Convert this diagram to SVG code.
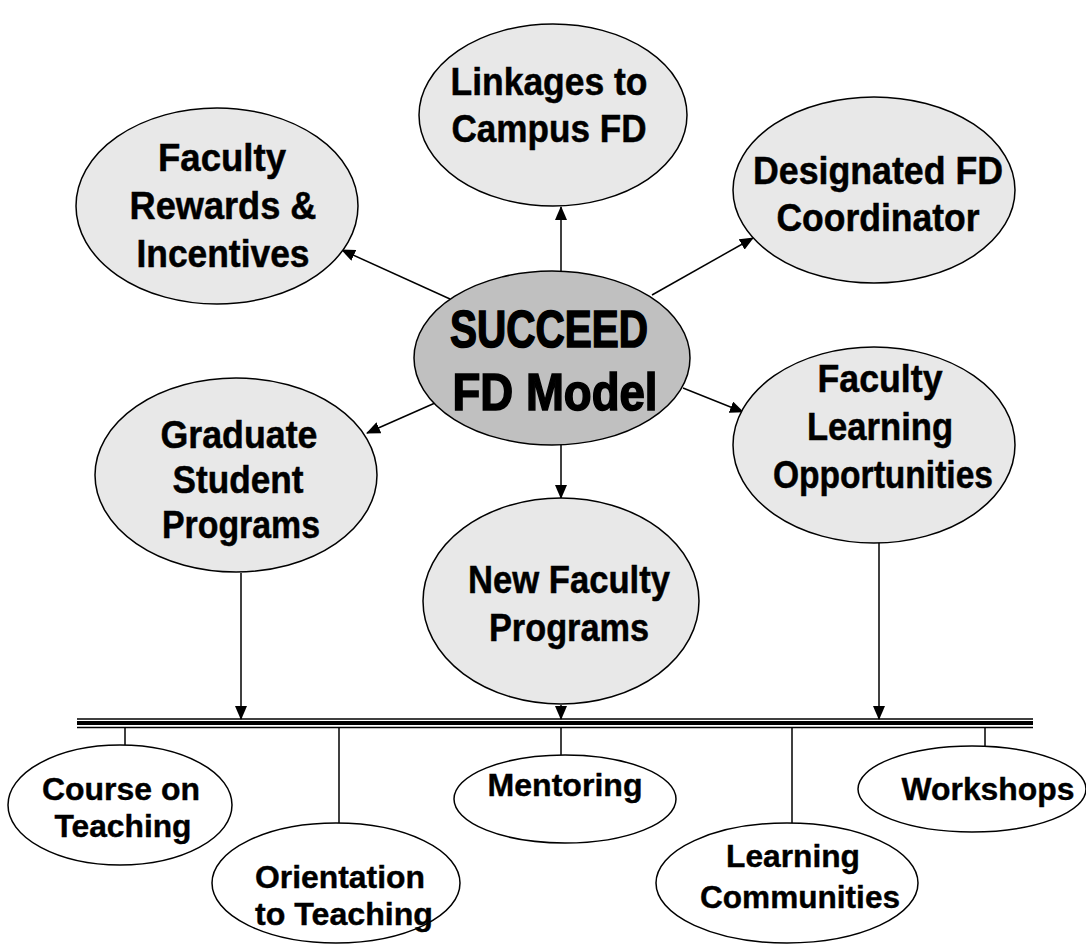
<svg xmlns="http://www.w3.org/2000/svg" width="1086" height="944" viewBox="0 0 1086 944">
<style>
.top{fill:#e8e8e8;stroke:#000;stroke-width:1.5}
.mid{fill:#c0c0c0;stroke:#000;stroke-width:1.5}
.bot{fill:#fff;stroke:#000;stroke-width:1.5}
.t{font-family:"Liberation Sans",Arial,sans-serif;font-weight:bold;font-size:39px;text-anchor:middle;fill:#000;stroke:#000;stroke-width:0.5}
.s{font-family:"Liberation Sans",Arial,sans-serif;font-weight:bold;font-size:32px;text-anchor:middle;fill:#000;stroke:#000;stroke-width:0.4}
.c{font-family:"Liberation Sans",Arial,sans-serif;font-weight:bold;font-size:52px;text-anchor:middle;fill:#000;stroke:#000;stroke-width:1.6}
.ln{stroke:#000;stroke-width:1.5;fill:none}
.ar{stroke:#000;stroke-width:1.5;fill:none;marker-end:url(#ah)}
</style>
<defs>
<marker id="ah" markerUnits="userSpaceOnUse" markerWidth="14" markerHeight="12" refX="13" refY="6" orient="auto">
<path d="M0,0 L14,6 L0,12 Z" fill="#000"/>
</marker>
</defs>
<rect width="1086" height="944" fill="#fff"/>
<g id="connectors">
<line class="ar" x1="561" y1="271" x2="561" y2="207"/>
<line class="ar" x1="450" y1="299" x2="342" y2="250"/>
<line class="ar" x1="652" y1="295" x2="753" y2="238"/>
<line class="ar" x1="435" y1="403" x2="367" y2="433"/>
<line class="ar" x1="683" y1="388" x2="743" y2="412"/>
<line class="ar" x1="561" y1="445" x2="561" y2="498"/>
<line class="ar" x1="241" y1="573" x2="241" y2="719"/>
<line class="ar" x1="561" y1="705" x2="561" y2="719"/>
<line class="ar" x1="879" y1="542" x2="879" y2="719"/>
<line x1="77" y1="719" x2="1033" y2="719" stroke="#000" stroke-width="1.5"/>
<line x1="77" y1="723" x2="1033" y2="723" stroke="#000" stroke-width="4"/>
<line x1="77" y1="727.5" x2="1033" y2="727.5" stroke="#000" stroke-width="1.5"/>
<line class="ln" x1="125" y1="728" x2="125" y2="745"/>
<line class="ln" x1="339" y1="728" x2="339" y2="823"/>
<line class="ln" x1="561" y1="728" x2="561" y2="755"/>
<line class="ln" x1="792" y1="728" x2="792" y2="823"/>
<line class="ln" x1="985" y1="728" x2="985" y2="746"/>
</g>
<g id="linkages">
<ellipse class="top" cx="553" cy="115" rx="134" ry="91"/>
<text class="t" x="549" y="95" textLength="197" lengthAdjust="spacingAndGlyphs">Linkages to</text>
<text class="t" x="549" y="142" textLength="195" lengthAdjust="spacingAndGlyphs">Campus FD</text>
</g>
<g id="rewards">
<ellipse class="top" cx="217" cy="206" rx="141" ry="98"/>
<text class="t" x="222" y="171" textLength="128" lengthAdjust="spacingAndGlyphs">Faculty</text>
<text class="t" x="223" y="219" textLength="187" lengthAdjust="spacingAndGlyphs">Rewards &amp;</text>
<text class="t" x="223" y="267" textLength="173" lengthAdjust="spacingAndGlyphs">Incentives</text>
</g>
<g id="designated">
<ellipse class="top" cx="874" cy="190" rx="141" ry="93"/>
<text class="t" x="878" y="184" textLength="250" lengthAdjust="spacingAndGlyphs">Designated FD</text>
<text class="t" x="878" y="231" textLength="203" lengthAdjust="spacingAndGlyphs">Coordinator</text>
</g>
<g id="graduate">
<ellipse class="top" cx="236" cy="475" rx="141" ry="97"/>
<text class="t" x="239" y="448" textLength="157" lengthAdjust="spacingAndGlyphs">Graduate</text>
<text class="t" x="238" y="493" textLength="131" lengthAdjust="spacingAndGlyphs">Student</text>
<text class="t" x="241" y="538" textLength="158" lengthAdjust="spacingAndGlyphs">Programs</text>
</g>
<g id="learning-opps">
<ellipse class="top" cx="874" cy="445" rx="141" ry="98"/>
<text class="t" x="880" y="392" textLength="125" lengthAdjust="spacingAndGlyphs">Faculty</text>
<text class="t" x="880" y="440" textLength="146" lengthAdjust="spacingAndGlyphs">Learning</text>
<text class="t" x="883" y="488" textLength="220" lengthAdjust="spacingAndGlyphs">Opportunities</text>
</g>
<g id="new-faculty">
<ellipse class="top" cx="561" cy="601" rx="138" ry="103"/>
<text class="t" x="569" y="593" textLength="202" lengthAdjust="spacingAndGlyphs">New Faculty</text>
<text class="t" x="569" y="641" textLength="160" lengthAdjust="spacingAndGlyphs">Programs</text>
</g>
<g id="center">
<ellipse class="mid" cx="552" cy="358" rx="138" ry="87"/>
<text class="c" x="549" y="347" textLength="198" lengthAdjust="spacingAndGlyphs">SUCCEED</text>
<text class="c" x="555" y="410" textLength="205" lengthAdjust="spacingAndGlyphs">FD Model</text>
</g>
<g id="course">
<ellipse class="bot" cx="120" cy="805" rx="112" ry="60"/>
<text class="s" x="121" y="800" textLength="158" lengthAdjust="spacingAndGlyphs">Course on</text>
<text class="s" x="123" y="837" textLength="137" lengthAdjust="spacingAndGlyphs">Teaching</text>
</g>
<g id="orientation">
<ellipse class="bot" cx="336" cy="883" rx="124" ry="60"/>
<text class="s" x="340" y="888" textLength="170" lengthAdjust="spacingAndGlyphs">Orientation</text>
<text class="s" x="344" y="925" textLength="178" lengthAdjust="spacingAndGlyphs">to Teaching</text>
</g>
<g id="mentoring">
<ellipse class="bot" cx="565" cy="799" rx="111" ry="44"/>
<text class="s" x="565" y="796" textLength="155" lengthAdjust="spacingAndGlyphs">Mentoring</text>
</g>
<g id="communities">
<ellipse class="bot" cx="787" cy="883" rx="131" ry="60"/>
<text class="s" x="793" y="867" textLength="134" lengthAdjust="spacingAndGlyphs">Learning</text>
<text class="s" x="800" y="908" textLength="200" lengthAdjust="spacingAndGlyphs">Communities</text>
</g>
<g id="workshops">
<ellipse class="bot" cx="972" cy="789" rx="114" ry="43"/>
<text class="s" x="988" y="800" textLength="173" lengthAdjust="spacingAndGlyphs">Workshops</text>
</g>
</svg>
